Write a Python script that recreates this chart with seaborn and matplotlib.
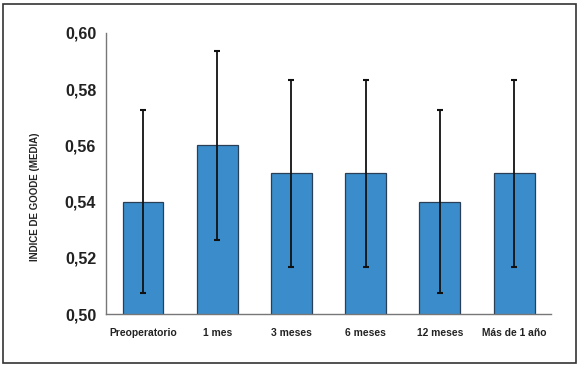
import matplotlib
matplotlib.use("Agg")
import matplotlib.pyplot as plt
import seaborn as sns
import pandas as pd
from matplotlib.patches import Rectangle
from matplotlib.ticker import FuncFormatter

categories = ["Preoperatorio", "1 mes", "3 meses", "6 meses", "12 meses", "Más de 1 año"]
means = [0.540, 0.560, 0.550, 0.550, 0.540, 0.550]
errors = [0.0325, 0.0336, 0.0333, 0.0333, 0.0325, 0.0333]
yticks = [0.50, 0.52, 0.54, 0.56, 0.58, 0.60]

df = pd.DataFrame({"cat": categories, "mean": means, "err": errors})

sns.set_style("white")
plt.rcParams['font.family'] = ['Liberation Sans', 'DejaVu Sans']

fig = plt.figure(figsize=(5.79, 3.66), dpi=100)
ax = fig.add_axes([0.183, 0.142, 0.769, 0.768])

sns.barplot(data=df, x="cat", y="mean", color="#3A8DCA", width=0.55,
            edgecolor="#2a3f55", linewidth=0.9, saturation=1, errorbar=None, ax=ax)
xs = range(len(categories))
ax.errorbar(list(xs), df["mean"], yerr=df["err"], fmt="none", ecolor="#111111",
            elinewidth=1.3, capsize=2.5, capthick=1.5, zorder=5)

ax.set_ylim(0.50, 0.60)
ax.set_xlim(-0.5, 5.5)
ax.set_yticks(yticks)
ax.yaxis.set_major_formatter(FuncFormatter(lambda v, p: f"{v:.2f}".replace(".", ",")))
ax.tick_params(axis="y", length=0, pad=7, labelsize=11.5)
ax.tick_params(axis="x", length=0, pad=10, labelsize=7.4)
for lbl in ax.get_yticklabels() + ax.get_xticklabels():
    lbl.set_fontweight("bold")
    lbl.set_color("#222222")
ax.set_xlabel("")
ax.set_ylabel("INDICE DE GOODE (MEDIA)", fontsize=7, color="#222222", fontweight="bold")
ax.yaxis.set_label_coords(-0.148, 0.416)
for s in ["top", "right"]:
    ax.spines[s].set_visible(False)
for s in ["left", "bottom"]:
    ax.spines[s].set_color("#777777")
    ax.spines[s].set_linewidth(1.0)

fig.patches.append(Rectangle((2.5 / 579, 3.5 / 366), 573 / 579, 359 / 366,
                             transform=fig.transFigure, fill=False,
                             edgecolor="#333333", linewidth=1.2))

fig.savefig("out.png", dpi=100)
